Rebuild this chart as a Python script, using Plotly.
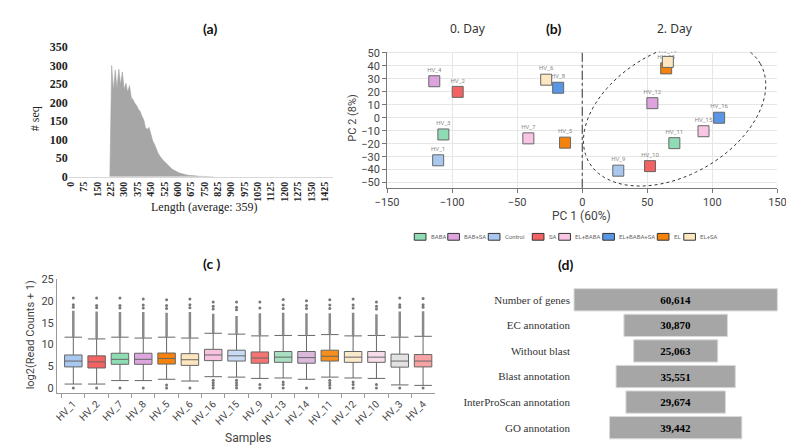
import numpy as np
import plotly.graph_objects as go

W, H = 794, 447


def fx(px):
    return px / W


def fy(py):
    return 1 - py / H


# ---- (a) sequence length distribution ----
len_bins = [220, 230, 240, 250, 260, 270, 280, 290, 300, 310, 320, 330, 340, 350, 360,
            370, 380, 390, 400, 410, 420, 430, 440, 450, 460, 470, 480, 490, 500, 510,
            520, 530, 540, 550, 560, 570, 580, 590, 600, 610, 620, 630, 640, 650, 660,
            670, 680, 690, 700, 710, 720, 730, 740, 750, 760, 770, 780, 790, 800]
seq_counts = [0, 300, 232, 288, 238, 290, 248, 283, 236, 252, 228, 246, 214, 208, 198,
              192, 182, 176, 163, 154, 132, 128, 133, 112, 97, 88, 73, 64, 56, 49,
              44, 39, 35, 29, 25, 20, 17, 14, 13, 10, 9, 7, 6, 5, 4,
              4, 3, 4, 2, 2, 1, 2, 1, 1, 0, 1, 0, 0, 0]
len_ticks = [0, 75, 150, 225, 300, 375, 450, 525, 600, 675, 750, 825, 900, 975,
             1050, 1125, 1200, 1275, 1350, 1425]

# ---- (b) PCA ----
pca_samples = ["HV_1", "HV_2", "HV_3", "HV_4", "HV_5", "HV_6", "HV_7", "HV_8",
               "HV_9", "HV_10", "HV_11", "HV_12", "HV_13", "HV_14", "HV_15", "HV_16"]
pc1 = [-110.7, -95.7, -106.7, -113.7, -13.2, -27.7, -41.4, -18.5,
       27.7, 52.1, 70.8, 53.9, 64.5, 65.8, 93.2, 105.2]
pc2 = [-32.8, 19.9, -12.9, 28.1, -19.2, 29.3, -15.9, 23.1,
       -40.8, -37.3, -19.6, 11.2, 38.0, 43.0, -10.4, 0.0]
pca_group = ["Control", "SA", "BABA", "BAB+SA", "EL", "EL+SA", "EL+BABA", "EL+BABA+SA",
             "Control", "SA", "BABA", "BAB+SA", "EL", "EL+SA", "EL+BABA", "EL+BABA+SA"]
groups = ["BABA", "BAB+SA", "Control", "SA", "EL+BABA", "EL+BABA+SA", "EL", "EL+SA"]

# ---- (c) boxplots of log2 counts ----
box_samples = ["HV_1", "HV_2", "HV_7", "HV_8", "HV_5", "HV_6", "HV_16", "HV_15",
               "HV_9", "HV_13", "HV_14", "HV_11", "HV_12", "HV_10", "HV_3", "HV_4"]
box_q1 = [4.85, 4.6, 5.45, 5.45, 5.5, 5.2, 6.3, 6.2, 5.7, 5.9, 5.7, 6.2, 5.9, 5.9, 4.8, 4.85]
box_med = [6.2, 6.0, 6.6, 6.6, 6.8, 6.5, 7.6, 7.4, 6.9, 7.1, 7.0, 7.3, 7.1, 7.1, 6.2, 6.2]
box_q3 = [7.6, 7.4, 8.0, 8.0, 8.05, 7.9, 8.9, 8.7, 8.3, 8.4, 8.4, 8.7, 8.4, 8.4, 7.8, 7.7]
box_upper = [11.7, 11.3, 11.7, 11.5, 11.7, 11.5, 12.6, 12.4, 12.0, 12.1, 12.1, 12.3, 12.0, 12.1, 11.7, 11.9]
box_lower = [0.9, 0.9, 1.7, 1.7, 2.0, 1.6, 2.6, 2.5, 2.2, 2.3, 2.0, 2.5, 2.3, 2.2, 0.7, 0.6]
dense_top = [17.8, 17.6, 17.5, 17.5, 17.3, 17.5, 17.1, 16.6, 17.2, 17.3, 17.2, 17.2, 17.3, 17.0, 17.6, 17.7]
high_out = [[18.6, 19.2, 20.7], [18.5, 19.0, 20.7], [18.4, 19.0, 20.7], [18.4, 19.1, 20.5],
            [18.3, 19.0, 20.3], [18.5, 19.2, 20.5], [18.2, 18.8, 19.8], [18.0, 18.6, 19.8],
            [18.4, 19.8], [18.3, 19.1, 20.4], [18.3, 19.0, 20.1], [18.3, 19.1, 20.3],
            [18.4, 19.1, 20.5], [18.2, 18.8, 19.8], [18.6, 19.2, 20.7], [18.6, 19.2, 20.6]]
low_out = [[0.0], [0.0], [0.0], [0.0], [0.0, 0.7], [0.0], [0.0, 0.6, 1.2, 1.8], [0.0, 0.6, 1.2, 1.8],
           [0.0, 0.8], [0.0, 0.8, 1.4], [0.0], [0.0, 0.6, 1.2, 1.8], [0.0, 0.8, 1.4], [0.0, 0.8],
           [0.0], [0.0]]
box_colors = ["#a9c8f0", "#f46262", "#90dcb5", "#dea6df", "#f5820c", "#fde6c0",
              "#f7c2e0", "#c9dbf2", "#f47474", "#a9dfc2", "#dbb9db", "#f68e1c",
              "#fbe9cc", "#f6dde9", "#e2e2e2", "#f7a3a3"]

# ---- (d) annotation summary ----
annot_labels = ["Number of genes", "EC annotation", "Without blast", "Blast annotation",
                "InterProScan annotation", "GO annotation"]
annot_values = [60614, 30870, 25063, 35551, 29674, 39442]

group_colors = {"BABA": "#8fdcb4", "BAB+SA": "#dca3df", "Control": "#a9c8f0", "SA": "#f26262",
                "EL+BABA": "#f8c6e2", "EL+BABA+SA": "#5a96e6", "EL": "#f5820a", "EL+SA": "#fde7c0"}

SERIF = "Liberation Serif"
SANS = "Roboto"

fig = go.Figure()

# (a)
fig.add_trace(go.Scatter(x=len_bins, y=seq_counts, mode="lines", fill="tozeroy",
                         line=dict(color="#a6a6a6", width=0.6), fillcolor="#a6a6a6",
                         xaxis="x", yaxis="y", showlegend=False, hoverinfo="skip"))

# (b)
for g in groups:
    idx = [i for i, gg in enumerate(pca_group) if gg == g]
    fig.add_trace(go.Scatter(
        x=[pc1[i] for i in idx], y=[pc2[i] for i in idx], text=[pca_samples[i] for i in idx],
        mode="markers+text", textposition="top center",
        textfont=dict(family=SANS, size=6, color="#888"),
        marker=dict(symbol="square", size=11, color=group_colors[g], line=dict(color="#666", width=1)),
        xaxis="x2", yaxis="y2", showlegend=False, name=g))

# (c)
for i, s in enumerate(box_samples):
    fig.add_trace(go.Box(
        x=[s], q1=[box_q1[i]], median=[box_med[i]], q3=[box_q3[i]],
        lowerfence=[box_lower[i]], upperfence=[box_upper[i]],
        fillcolor=box_colors[i], line=dict(color="#666", width=1), width=0.75,
        whiskerwidth=1, boxpoints=False, xaxis="x3", yaxis="y3", showlegend=False))

dx, dy = [], []
for i, s in enumerate(box_samples):
    dx += [s, s, None]
    dy += [box_upper[i], dense_top[i], None]
fig.add_trace(go.Scatter(x=dx, y=dy, mode="lines", line=dict(color="#8a8a8a", width=2.5),
                         xaxis="x3", yaxis="y3", showlegend=False, hoverinfo="skip"))
ox, oy = [], []
for i, s in enumerate(box_samples):
    for v in high_out[i] + low_out[i]:
        ox.append(s)
        oy.append(v)
fig.add_trace(go.Scatter(x=ox, y=oy, mode="markers", marker=dict(size=3, color="#777"),
                         xaxis="x3", yaxis="y3", showlegend=False, hoverinfo="skip"))

# (d)
fig.add_trace(go.Funnel(
    y=annot_labels, x=annot_values, xaxis="x4", yaxis="y4",
    marker=dict(color="#a6a6a6", line=dict(color="#d9d9d9", width=1)),
    connector=dict(visible=False), textinfo="value", texttemplate="<b>%{x:,}</b>",
    textposition="inside", insidetextanchor="middle",
    textfont=dict(family=SERIF, size=11, color="black"), showlegend=False))

# ellipse around day-2 samples and separator line at PC1 = 0
t = np.linspace(0, 2 * np.pi, 120)
ang = np.deg2rad(30)
ex = 71 + 76 * np.cos(t) * np.cos(ang) - 48 * np.sin(t) * np.sin(ang)
ey = 3.7 + 76 * np.cos(t) * np.sin(ang) + 48 * np.sin(t) * np.cos(ang)
path = "M " + " L ".join(f"{a:.2f},{b:.2f}" for a, b in zip(ex, ey)) + " Z"
shapes = [
    dict(type="path", path=path, xref="x2", yref="y2", line=dict(color="#333", width=1, dash="dot")),
    dict(type="line", x0=0, x1=0, y0=0, y1=1, xref="x2", yref="y2 domain",
         line=dict(color="#333", width=1, dash="dashdot")),
]

annotations = []


def label(text, x, y, size, family, color="#222", angle=0, anchor="center"):
    annotations.append(dict(text=text, x=fx(x), y=fy(y), xref="paper", yref="paper",
                            showarrow=False, xanchor=anchor, yanchor="middle", textangle=angle,
                            font=dict(family=family, size=size, color=color)))


label("<b>(a)</b>", 195, 14, 14, "Lato", "#111")
label("<b>(b)</b>", 548, 14, 14, "Lato", "#111")
label("<b>(c )</b>", 197, 257, 14, "Lato", "#111")
label("<b>(d)</b>", 560, 258, 14, "Lato", "#111")
label("0. Day", 460, 14, 12, "Noto Sans", "#333")
label("2. Day", 673, 14, 12, "Noto Sans", "#333")
label("# seq", 15, 107, 12, SERIF, "#222", -90)
label("Length (average: 359)", 190, 198, 12, SERIF, "#222")
label("PC 2 (8%)", 342, 106, 11, SANS, "#444", -90)
label("PC 1 (60%)", 577, 207, 12, SANS, "#444")
label("log2(Read Counts + 1)", 11, 330, 11, SANS, "#444", -90)
label("Samples", 234, 437, 12, SANS, "#444")

# custom legend for (b)
lx = 405
for g in groups:
    shapes.append(dict(type="rect", xref="paper", yref="paper", x0=fx(lx), x1=fx(lx + 12),
                       y0=fy(232.5), y1=fy(225.5), fillcolor=group_colors[g],
                       line=dict(color="#333", width=1)))
    label(g, lx + 15, 229, 6, SANS, "#666", anchor="left")
    lx += 20 + 3.6 * len(g)

grid = "#e6e6e6"
fig.update_layout(
    width=W, height=H, margin=dict(l=0, r=0, t=0, b=0),
    paper_bgcolor="white", plot_bgcolor="white",
    shapes=shapes, annotations=annotations, funnelgap=0.13,
    xaxis=dict(domain=[fx(50), fx(322)], range=[-11, 1474], tickvals=len_ticks, tickangle=-90,
               tickfont=dict(family=SERIF, size=10, color="#222", weight="bold"),
               showline=True, linecolor="#d9d9d9", showgrid=False, zeroline=False, anchor="y"),
    yaxis=dict(domain=[fy(167), fy(33)], range=[0, 350], dtick=50, showgrid=False,
               zeroline=False, showline=False, anchor="x",
               tickfont=dict(family=SERIF, size=12, color="#222", weight="bold")),
    xaxis2=dict(domain=[fx(377), fx(778)], range=[-150, 150], dtick=50, gridcolor=grid,
                showline=True, linecolor="#777", ticks="outside", ticklen=4, tickcolor="#777",
                zeroline=False, anchor="y2", tickfont=dict(family=SANS, size=11, color="#444")),
    yaxis2=dict(domain=[fy(178.4), fy(37.7)], range=[-54, 51], dtick=10, gridcolor=grid,
                showline=True, linecolor="#777", ticks="outside", ticklen=4, tickcolor="#777",
                zeroline=False, anchor="x2", tickfont=dict(family=SANS, size=11, color="#444")),
    xaxis3=dict(domain=[fx(38), fx(426)], type="category", range=[-0.7, 15.5], tickangle=-45,
                showline=True, linecolor="#999", ticks="outside", ticklen=4, tickcolor="#999",
                tickson="boundaries", showgrid=False, anchor="y3",
                tickfont=dict(family=SANS, size=10, color="#444")),
    yaxis3=dict(domain=[fy(390.4), fy(273)], range=[-1.2, 25], dtick=5, showgrid=False,
                zeroline=False, showline=True, linecolor="#999", anchor="x3",
                tickfont=dict(family=SANS, size=11, color="#444")),
    xaxis4=dict(domain=[fx(566), fx(781)], range=[-31200, 31200], visible=False, anchor="y4"),
    yaxis4=dict(domain=[fy(439.2), fy(280.8)], autorange="reversed", showgrid=False,
                showline=False, anchor="x4",
                tickfont=dict(family=SERIF, size=11, color="#333", weight="normal")),
)

fig.write_html("out.html")
